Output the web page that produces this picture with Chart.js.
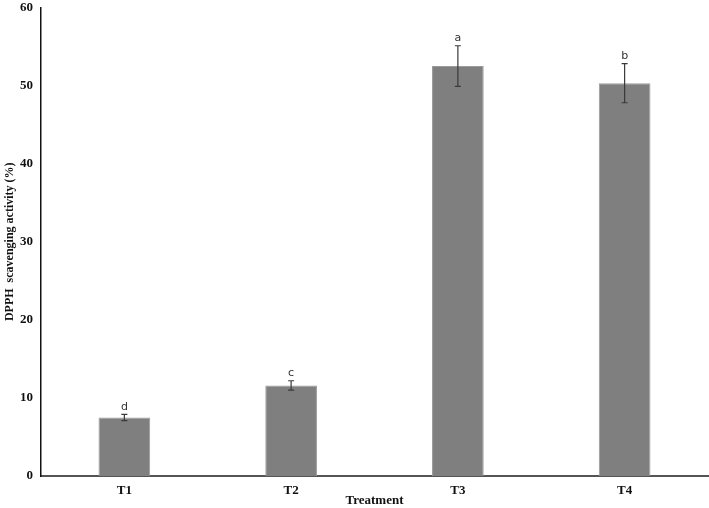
<!DOCTYPE html>
<html>
<head>
<meta charset="utf-8">
<script src="https://cdn.jsdelivr.net/npm/chart.js@4"></script>
<style>
  html, body { margin: 0; padding: 0; background: #fff; overflow: hidden; }
  #wrap { width: 709px; height: 511px; margin-top: -3px; }
</style>
</head>
<body>
<div id="wrap"><canvas id="dpphChart"></canvas></div>
<script>
// data
const treatments = ['T1', 'T2', 'T3', 'T4'];
const scavenging = [7.5, 11.6, 52.5, 50.3];
const errors = [0.4, 0.6, 2.6, 2.5];
const letters = ['d', 'c', 'a', 'b'];
const yTicks = [0, 10, 20, 30, 40, 50, 60];

const serif = '"Liberation Serif", "Times New Roman", serif';

// error bars + significance letters
const errorBarPlugin = {
    id: 'errorBars',
    afterDatasetsDraw(chart) {
        const ctx = chart.ctx;
        const x = chart.scales.x, y = chart.scales.y;
        ctx.save();
        ctx.strokeStyle = '#3a3a3a';
        ctx.lineWidth = 1.2;
        scavenging.forEach((v, i) => {
            const cx = x.getPixelForValue(i);
            const top = y.getPixelForValue(v + errors[i]);
            const bot = y.getPixelForValue(v - errors[i]);
            ctx.beginPath();
            ctx.moveTo(cx, top); ctx.lineTo(cx, bot);
            ctx.moveTo(cx - 3, top); ctx.lineTo(cx + 3, top);
            ctx.moveTo(cx - 3, bot); ctx.lineTo(cx + 3, bot);
            ctx.stroke();
            ctx.fillStyle = '#333';
            ctx.font = '11px "DejaVu Sans", sans-serif';
            ctx.textAlign = 'center';
            ctx.textBaseline = 'bottom';
            ctx.fillText(letters[i], cx, top - 2);
        });
        ctx.restore();
    }
};

new Chart(document.getElementById('dpphChart'), {
    type: 'bar',
    data: {
        labels: treatments,
        datasets: [{
            data: scavenging,
            backgroundColor: '#7f7f7f',
            borderColor: '#9a9a9a',
            borderWidth: 1,
            barPercentage: 0.31,
            categoryPercentage: 1
        }]
    },
    options: {
        responsive: true,
        maintainAspectRatio: false,
        animation: false,
        layout: { padding: { top: 0, right: 1, left: 3, bottom: 0 } },
        plugins: { legend: { display: false }, tooltip: { enabled: false } },
        scales: {
            x: {
                grid: { display: false, drawTicks: false },
                border: { color: '#555', width: 2 },
                ticks: { color: '#111', font: { family: serif, size: 13, weight: 'bold' }, padding: 7 },
                title: { display: true, text: 'Treatment', color: '#111', font: { family: serif, size: 13, weight: 'bold' }, padding: { top: 0, bottom: 0 } },
                afterFit(s) { s.height = 32; }
            },
            y: {
                min: 0, max: 60,
                afterBuildTicks(s) { s.ticks = yTicks.map(v => ({ value: v })); },
                grid: { display: false, drawTicks: true, tickLength: 4, tickColor: '#222', tickWidth: 1 },
                border: { color: '#111', width: 1.5 },
                ticks: { color: '#111', font: { family: serif, size: 13, weight: 'bold', lineHeight: 1 }, padding: 4 },
                title: { display: true, text: 'DPPH  scavenging activity (%)', color: '#111', font: { family: serif, size: 12, weight: 'bold' }, padding: { top: 0, bottom: 2 } },
                afterFit(s) { s.width = 38; }
            }
        }
    },
    plugins: [errorBarPlugin]
});
</script>
</body>
</html>
